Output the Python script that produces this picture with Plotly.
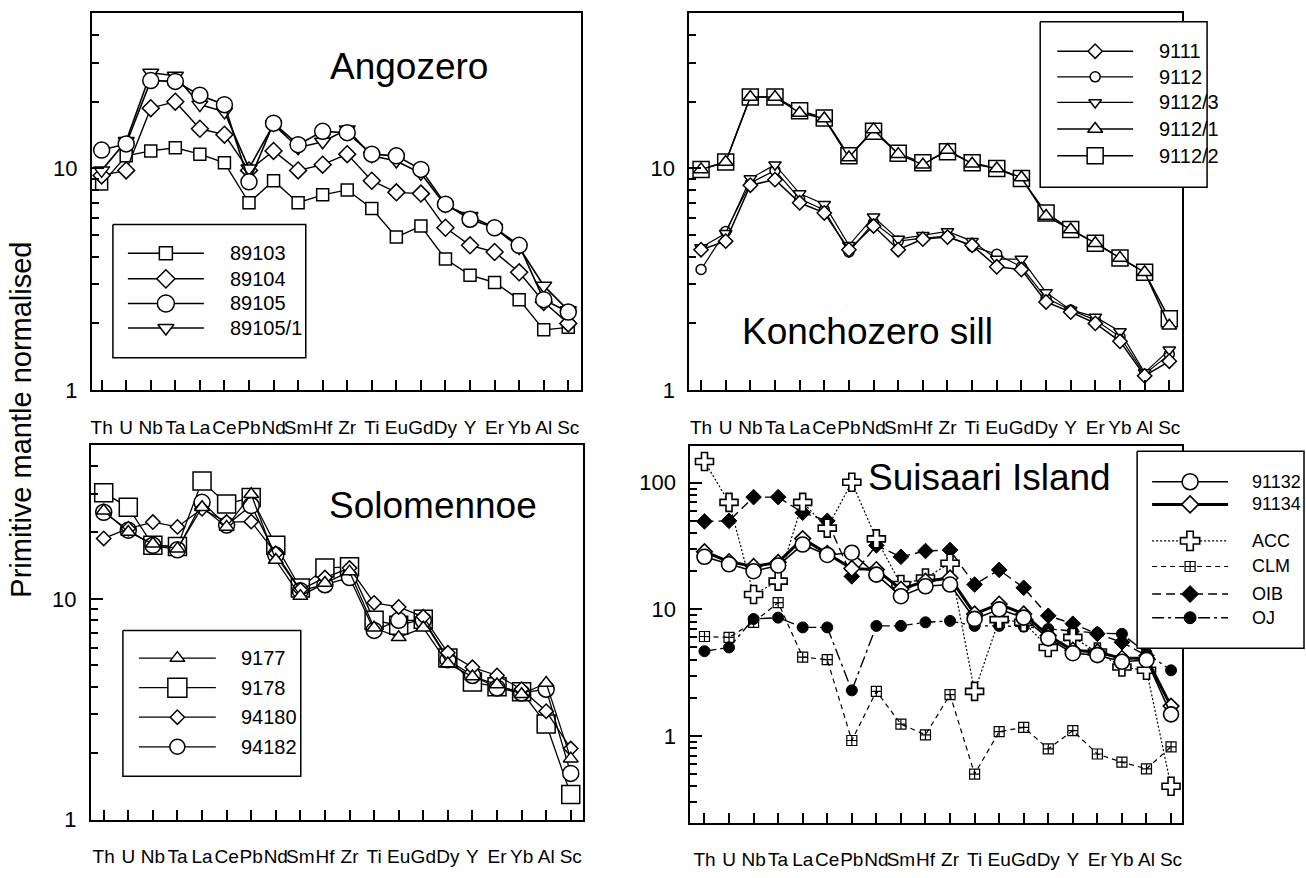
import plotly.graph_objects as go

W, H = 1306, 878

# ---------------- data ----------------
ELEMENTS = ["Th", "U", "Nb", "Ta", "La", "Ce", "Pb", "Nd", "Sm", "Hf",
            "Zr", "Ti", "Eu", "Gd", "Dy", "Y", "Er", "Yb", "Al", "Sc"]

# Angozero
ang_89103 = [8.5, 11.4, 12, 12.4, 11.6, 10.6, 7.0, 8.8, 7.0, 7.6, 8.0, 6.6, 4.9, 5.5, 3.9, 3.3, 3.06, 2.56, 1.87, 1.92]
ang_89104 = [9.3, 9.8, 18.7, 20, 15.1, 14.2, 9.8, 12, 9.8, 10.4, 11.6, 8.8, 7.8, 7.7, 5.4, 4.5, 4.2, 3.4, 2.5, 2.0]
ang_89105 = [12.1, 12.9, 24.9, 24.7, 21.4, 19.4, 8.7, 16, 12.8, 14.7, 14.5, 11.6, 11.4, 9.9, 6.9, 5.9, 5.4, 4.5, 2.56, 2.25]
ang_89105_1 = [9.8, 13.3, 27, 26.2, 19.4, 18, 10, 15.8, 12.4, 13.2, 15, 11.4, 10.8, 9.5, 6.8, 6.1, 5.4, 4.4, 2.96, 2.29]

# Konchozero sill
kon_9111 = [4.3, 4.7, 8.4, 8.9, 7.0, 6.3, 4.3, 5.5, 4.3, 4.8, 4.9, 4.5, 3.6, 3.5, 2.5, 2.25, 2.0, 1.66, 1.16, 1.35]
kon_9112 = [3.5, 5.2, 8.6, 9.8, 7.3, 6.5, 4.2, 5.7, 4.7, 4.85, 4.95, 4.45, 4.1, 3.6, 2.6, 2.3, 2.07, 1.74, 1.18, 1.45]
kon_9112_3 = [4.4, 5.1, 9.0, 10.4, 7.7, 6.9, 4.5, 6.05, 4.8, 5.0, 5.2, 4.7, 3.9, 3.9, 2.76, 2.3, 2.14, 1.84, 1.2, 1.52]
kon_9112_1 = [9.9, 10.7, 21, 21, 17.8, 16.8, 11.2, 15.0, 11.6, 10.4, 12.1, 10.5, 10, 9.1, 6.1, 5.3, 4.6, 3.95, 3.4, 1.95]
kon_9112_2 = [9.9, 10.7, 21, 21, 18.2, 16.9, 11.4, 14.7, 11.7, 10.6, 11.9, 10.6, 10, 9.0, 6.3, 5.3, 4.6, 3.95, 3.4, 2.1]

# Solomennoe
sol_9177 = [25.1, 20.1, 17.8, 16.9, 26, 21.2, 29.8, 15, 10.3, 11.8, 13.3, 7.4, 6.7, 7.4, 5.1, 4.45, 4.1, 3.7, 4.16, 1.89]
sol_9178 = [30.3, 26, 17.5, 17.3, 34.2, 26.9, 28.8, 17.5, 11.2, 13.8, 14, 8.0, 7.6, 8.1, 5.4, 4.2, 4.0, 3.8, 2.71, 1.3]
sol_94180 = [18.8, 20.8, 22.3, 21.2, 25.6, 22.3, 22.4, 16.1, 11, 12.5, 13.8, 9.6, 9.2, 8.3, 5.7, 4.9, 4.5, 3.9, 3.1, 2.1]
sol_94182 = [24.7, 20.5, 17.5, 16.7, 27.4, 21.6, 26.5, 15.8, 10.9, 11.6, 12.5, 7.2, 8.0, 8.0, 5.3, 4.5, 3.95, 3.75, 3.9, 1.62]

# Suisaari Island
sui_91132 = [26, 22.7, 20, 22.2, 32.5, 26.9, 28, 18.8, 12.7, 15.2, 15.7, 8.4, 10, 8.6, 5.9, 4.5, 4.35, 3.85, 3.98, 1.48]
sui_91134 = [28.5, 23.8, 21.8, 23.5, 36.2, 27.7, 21, 20.6, 14.4, 16.7, 17.7, 9.2, 11, 9.2, 6.2, 4.75, 4.6, 4.1, 4.1, 1.72]
ref_acc = [147, 70, 13.1, 16.7, 70, 43.8, 101, 36, 15.7, 17.7, 23.1, 2.25, 8.3, 7.9, 5.0, 6.0, 4.6, 3.5, 3.3, 0.40]
ref_clm = [6.1, 6.0, 7.9, 11.3, 4.2, 4.0, 0.92, 2.25, 1.24, 1.02, 2.12, 0.50, 1.08, 1.17, 0.79, 1.10, 0.72, 0.62, 0.55, 0.82]
ref_oib = [49.5, 50, 77, 77, 58, 50, 18.2, 32, 26, 28.9, 29.4, 15.7, 20.5, 14.8, 8.9, 7.7, 6.4, 5.5, 4.3, None]
ref_oj = [4.67, 5.0, 8.4, 8.6, 7.2, 7.2, 2.29, 7.4, 7.4, 7.9, 8.1, 7.4, 7.4, 7.3, 7.0, 6.7, 6.5, 6.4, 4.5, 3.3]

# ---------------- styles ----------------
SANS = "Liberation Sans, Arial, sans-serif"


def mk(symbol, size, fill="white", lw=1.5):
    return dict(symbol=symbol, size=size, color=fill, line=dict(color="black", width=lw))


def ln(width=1.4, dash="solid"):
    return dict(color="black", width=width, dash=dash)


# (label, data, marker style, line style, legend marker style)  -- drawn in this order
panels = [
    dict(
        title="Angozero", title_xy=(408, 68),
        series=[
            ("89103", ang_89103, mk("square", 12), ln(), mk("square", 13)),
            ("89104", ang_89104, mk("diamond", 13), ln(), mk("diamond", 14)),
            ("89105/1", ang_89105_1, mk("triangle-down", 14), ln(1.6), mk("triangle-down", 14)),
            ("89105", ang_89105, mk("circle", 16), ln(1.6), mk("circle", 17)),
        ],
        legend_order=["89103", "89104", "89105", "89105/1"],
        legend=dict(box=(112, 228, 305, 363), rows=[257, 283, 308, 333], line=(127, 203), text_x=227, fs=20),
    ),
    dict(
        title="Konchozero sill", title_xy=(867, 336),
        series=[
            ("9112/2", kon_9112_2, mk("square", 16), ln(1.5), mk("square", 16)),
            ("9112/1", kon_9112_1, mk("triangle-up", 13), ln(1.5), mk("triangle-up", 13)),
            ("9112", kon_9112, mk("circle", 10), ln(1.2), mk("circle", 10)),
            ("9112/3", kon_9112_3, mk("triangle-down", 11), ln(1.2), mk("triangle-down", 11)),
            ("9111", kon_9111, mk("diamond", 11), ln(1.5), mk("diamond", 11)),
        ],
        legend_order=["9111", "9112", "9112/3", "9112/1", "9112/2"],
        legend=dict(box=(1040, 22, 1207, 190), rows=[52, 78, 104, 131, 158], line=(1057, 1133), text_x=1157, fs=20),
    ),
    dict(
        title="Solomennoe", title_xy=(432, 513),
        series=[
            ("9178", sol_9178, mk("square", 18), ln(1.3), mk("square", 19)),
            ("94182", sol_94182, mk("circle", 16), ln(1.3), mk("circle", 15)),
            ("94180", sol_94180, mk("diamond", 11), ln(1.3), mk("diamond", 11)),
            ("9177", sol_9177, mk("triangle-up", 13), ln(1.3), mk("triangle-up", 13)),
        ],
        legend_order=["9177", "9178", "94180", "94182"],
        legend=dict(box=(122, 640, 300, 788), rows=[668, 698, 728, 758], line=(138, 215), text_x=238, fs=20),
    ),
    dict(
        title="Suisaari Island", title_xy=(989, 485),
        series=[
            ("CLM", ref_clm, mk("square-cross-open", 10, fill="black", lw=1.2), ln(1.2, "5px,4px"), mk("square-cross-open", 10, fill="black", lw=1.2)),
            ("OJ", ref_oj, mk("circle", 11, fill="black", lw=1), ln(1.4, "12px,4px,3px,4px"), mk("circle", 12, fill="black", lw=1)),
            ("OIB", ref_oib, mk("diamond", 12, fill="black", lw=1), ln(1.4, "9px,5px"), mk("diamond", 13, fill="black", lw=1)),
            ("ACC", ref_acc, mk("cross", 15, lw=1.6), ln(1.2, "2px,2px"), mk("cross", 16, lw=1.6)),
            ("91134", sui_91134, mk("diamond", 12, lw=1.6), ln(3), mk("diamond", 13, lw=1.6)),
            ("91132", sui_91132, mk("circle", 15, lw=1.6), ln(1.6), mk("circle", 16, lw=1.6)),
        ],
        legend_order=["91132", "91134", "ACC", "CLM", "OIB", "OJ"],
        legend=dict(box=(1137, 458, 1304, 658), rows=[489, 512, 549, 575, 603, 627], line=(1152, 1228), text_x=1250, fs=18),
    ),
]

# frame geometry (pixels) and axis ranges per panel
frames = [
    dict(x=(91, 580), y=(13, 396), xr=[-0.395, 19.5], yr=[0, 1.702]),
    dict(x=(689, 1182), y=(13, 396), xr=[-0.47, 19.52], yr=[0, 1.702]),
    dict(x=(90, 582), y=(452, 832), xr=[-0.52, 19.48], yr=[0, 1.696]),
    dict(x=(690, 1182), y=(453, 835), xr=[-0.57, 19.45], yr=[-0.685, 2.288]),
]


def px(x):
    return x / W


def py(y):
    return 1 - y / H


fig = go.Figure()
layout = dict(
    width=W, height=H, margin=dict(l=0, r=0, t=0, b=0),
    paper_bgcolor="white", plot_bgcolor="rgba(0,0,0,0)",
    showlegend=False, font=dict(family=SANS, color="black"),
    annotations=[],
)

for i, (panel, fr) in enumerate(zip(panels, frames)):
    n = "" if i == 0 else str(i + 1)
    xa, ya = "x" + n, "y" + n
    layout["xaxis" + n] = dict(
        domain=[px(fr["x"][0]), px(fr["x"][1])], anchor=ya,
        type="category", categoryorder="array", categoryarray=ELEMENTS,
        tickmode="array", tickvals=ELEMENTS, ticktext=ELEMENTS, tickangle=0,
        range=fr["xr"], showgrid=False, zeroline=False,
        showline=True, linecolor="black", linewidth=2, mirror=True,
        ticks="inside", ticklen=10, tickwidth=2, tickcolor="black",
        tickfont=dict(family=SANS, size=19, color="black"),
        ticklabelstandoff=19, fixedrange=True,
    )
    layout["yaxis" + n] = dict(
        domain=[py(fr["y"][1]), py(fr["y"][0])], anchor=xa,
        type="log", range=fr["yr"], dtick=1, showgrid=False, zeroline=False,
        showline=True, linecolor="black", linewidth=2, mirror=True,
        ticks="inside", ticklen=12, tickwidth=2, tickcolor="black",
        minor=dict(ticks="inside", ticklen=7, tickwidth=1.6, tickcolor="black",
                   dtick="D1", showgrid=False),
        tickfont=dict(family=SANS, size=22, color="black"),
        ticklabelstandoff=8, fixedrange=True,
    )
    for label, vals, marker, line, _ in panel["series"]:
        fig.add_trace(go.Scatter(
            x=ELEMENTS, y=vals, mode="lines+markers", name=label,
            marker=marker, line=line, xaxis=xa, yaxis=ya,
            connectgaps=False, cliponaxis=False,
        ))
    tx, ty = panel["title_xy"]
    layout["annotations"].append(dict(
        x=px(tx), y=py(ty), xref="paper", yref="paper", text=panel["title"],
        showarrow=False, xanchor="center", yanchor="middle",
        font=dict(family=SANS, size=37, color="black"),
    ))

# overlay subplot in pixel coordinates used for drawing the legend boxes
layout["xaxis5"] = dict(domain=[0, 1], range=[0, W], visible=False, fixedrange=True, anchor="y5")
layout["yaxis5"] = dict(domain=[0, 1], range=[H, 0], visible=False, fixedrange=True, anchor="x5")

for panel in panels:
    lg = panel["legend"]
    l, t, r, b = lg["box"]
    fig.add_trace(go.Scatter(
        x=[l, r, r, l, l], y=[t, t, b, b, t], mode="lines", fill="toself",
        fillcolor="white", line=dict(color="black", width=1.5),
        xaxis="x5", yaxis="y5", hoverinfo="skip",
    ))
    styles = {s[0]: s for s in panel["series"]}
    x0, x1 = lg["line"]
    xm = (x0 + x1) / 2
    for label, row in zip(panel["legend_order"], lg["rows"]):
        _, _, _, line, lmarker = styles[label]
        fig.add_trace(go.Scatter(
            x=[x0, x1], y=[row, row], mode="lines", line=line,
            xaxis="x5", yaxis="y5", hoverinfo="skip",
        ))
        fig.add_trace(go.Scatter(
            x=[xm], y=[row], mode="markers", marker=lmarker,
            xaxis="x5", yaxis="y5", hoverinfo="skip", cliponaxis=False,
        ))
        layout["annotations"].append(dict(
            x=px(lg["text_x"]), y=py(row), xref="paper", yref="paper", text=label,
            showarrow=False, xanchor="left", yanchor="middle",
            font=dict(family=SANS, size=lg["fs"], color="black"),
        ))

# y axis title
layout["annotations"].append(dict(
    x=px(20), y=py(426), xref="paper", yref="paper",
    text="Primitive mantle normalised", textangle=-90,
    showarrow=False, xanchor="center", yanchor="middle",
    font=dict(family=SANS, size=29, color="black"),
))

fig.update_layout(**layout)
fig.write_html("out.html")
